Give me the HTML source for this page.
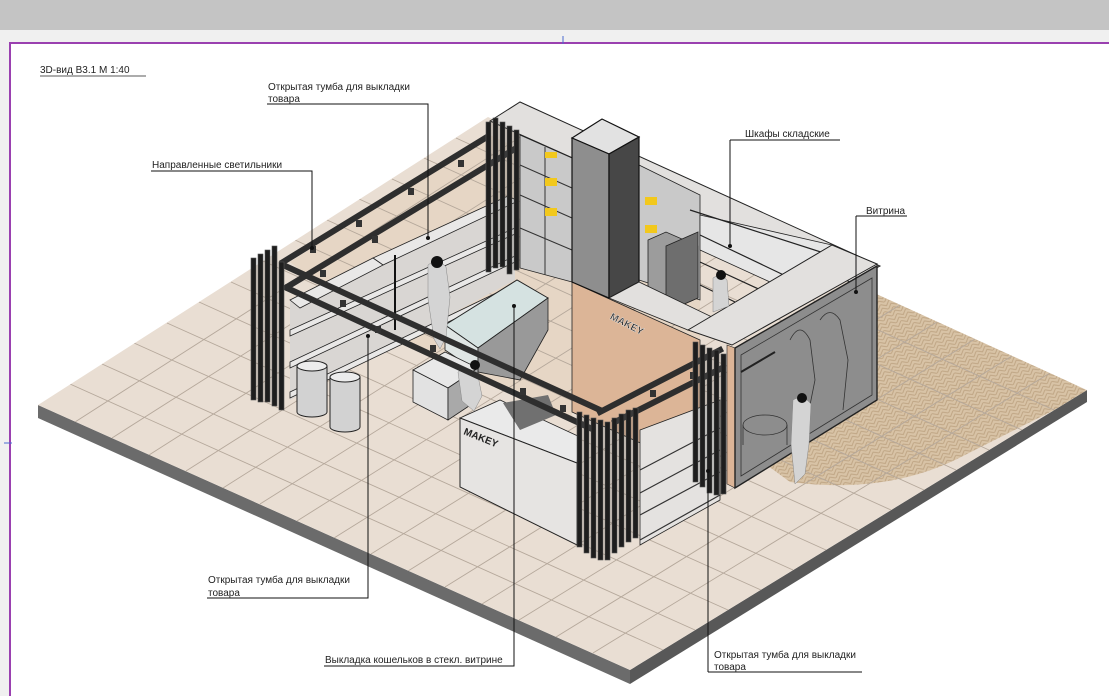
<!DOCTYPE html>
<html><head><meta charset="utf-8"><style>
html,body{margin:0;padding:0;background:#fff;}
svg{display:block}
text{font-family:"Liberation Sans",sans-serif;font-size:10px;fill:#222}
</style></head><body>
<svg width="1109" height="696" viewBox="0 0 1109 696" xmlns="http://www.w3.org/2000/svg">
<defs>
<clipPath id="fc"><polygon points="38,405 488,117 1087,390 630,670"/></clipPath>
<pattern id="hb" width="10" height="8" patternUnits="userSpaceOnUse" patternTransform="rotate(-30)">
<rect width="10" height="8" fill="#d8c3a6"/>
<path d="M0,0 L5,4 L10,0 M0,4 L5,8 L10,4" stroke="#bea483" stroke-width="0.9" fill="none"/>
</pattern>
</defs>
<rect x="0" y="0" width="1109" height="30" fill="#c4c4c4"/>
<rect x="0" y="30" width="1109" height="12" fill="#f0f0f0"/>
<rect x="0" y="42" width="10" height="654" fill="#f0f0f0"/>
<path d="M10,696 V43 H1109" stroke="#9a40b0" stroke-width="2" fill="none"/>
<line x1="563" y1="36" x2="563" y2="44" stroke="#4a6ad0"/>
<line x1="4" y1="443" x2="12" y2="443" stroke="#4a6ad0"/>

<text x="40" y="73" font-size="11">3D-вид B3.1 М 1:40</text>
<line x1="40" y1="76" x2="146" y2="76" stroke="#222" stroke-width="0.8"/>

<!-- slab -->
<polygon points="38,405 630,670 630,684 38,418" fill="#6b6b6b"/>
<polygon points="630,670 1087,390 1087,402 630,684" fill="#585858"/>
<polygon points="38,405 488,117 1087,390 630,670" fill="#e9ded3"/>
<g clip-path="url(#fc)">
<polygon points="290,262 490,135 700,235 700,340 572,282 572,420 380,330" fill="#e4cdb8" opacity="0.5"/>
<path d="M875,288 L1090,392 L965,455 Q890,495 790,482 L760,460 Z" fill="url(#hb)"/>
<g stroke="#b5a89b" stroke-width="0.9">
<line x1="70" y1="384" x2="663" y2="650"/><line x1="102" y1="364" x2="695" y2="630"/>
<line x1="134" y1="343" x2="728" y2="610"/><line x1="167" y1="323" x2="761" y2="590"/>
<line x1="199" y1="302" x2="793" y2="570"/><line x1="231" y1="282" x2="826" y2="550"/>
<line x1="263" y1="261" x2="858" y2="530"/><line x1="295" y1="240" x2="891" y2="510"/>
<line x1="327" y1="220" x2="924" y2="490"/><line x1="359" y1="199" x2="956" y2="470"/>
<line x1="392" y1="179" x2="989" y2="450"/><line x1="424" y1="158" x2="1022" y2="430"/>
<line x1="456" y1="138" x2="1054" y2="410"/>
<line x1="75" y1="422" x2="525" y2="134"/><line x1="112" y1="438" x2="563" y2="151"/>
<line x1="149" y1="455" x2="600" y2="168"/><line x1="186" y1="471" x2="638" y2="185"/>
<line x1="223" y1="488" x2="675" y2="202"/><line x1="260" y1="504" x2="713" y2="219"/>
<line x1="297" y1="521" x2="750" y2="236"/><line x1="334" y1="538" x2="788" y2="254"/>
<line x1="371" y1="554" x2="825" y2="271"/><line x1="408" y1="571" x2="862" y2="288"/>
<line x1="445" y1="587" x2="900" y2="305"/><line x1="482" y1="604" x2="937" y2="322"/>
<line x1="519" y1="620" x2="975" y2="339"/><line x1="556" y1="637" x2="1012" y2="356"/>
<line x1="593" y1="653" x2="1050" y2="373"/>
</g>
</g>

<!-- back top strip and shelving -->
<polygon points="490,121 520,102 880,266 850,282" fill="#e2e0de" stroke="#222" stroke-width="1"/>
<polygon points="520,135 572,158 572,282 520,268" fill="#c9c9c9" stroke="#222" stroke-width="0.8"/>
<g stroke="#333" stroke-width="1">
<line x1="520" y1="165" x2="572" y2="188"/><line x1="520" y1="195" x2="572" y2="218"/>
<line x1="520" y1="228" x2="572" y2="250"/><line x1="545" y1="147" x2="545" y2="275"/>
</g>
<rect x="545" y="152" width="12" height="6" fill="#f2c81c"/>
<rect x="545" y="178" width="12" height="8" fill="#f2c81c"/>
<rect x="545" y="208" width="12" height="8" fill="#f2c81c"/>
<polygon points="639,165 700,195 700,300 639,280" fill="#c9c9c9" stroke="#222" stroke-width="0.8"/>
<rect x="645" y="197" width="12" height="8" fill="#f2c81c"/>
<rect x="645" y="225" width="12" height="8" fill="#f2c81c"/>
<polygon points="700,215 832,245 770,282 700,250" fill="#e6e6e6" stroke="#222" stroke-width="0.8"/>
<g stroke="#222" stroke-width="1.2"><line x1="700" y1="235" x2="790" y2="278"/><line x1="700" y1="262" x2="765" y2="292"/><line x1="700" y1="285" x2="735" y2="302"/><line x1="690" y1="210" x2="830" y2="255"/></g>
<polygon points="648,240 666,232 698,246 698,298 680,306 648,292" fill="#9c9c9c" stroke="#222" stroke-width="0.8"/>
<polygon points="666,246 698,232 698,298 666,312" fill="#6e6e6e" stroke="#222" stroke-width="0.8"/>

<!-- beige wall -->
<polygon points="572,282 700,340 700,470 572,412" fill="#dcb597" stroke="#222" stroke-width="0.8"/>
<text x="603" y="335" transform="rotate(27 640 340)" font-family="Liberation Serif,serif" font-size="19" font-weight="bold" fill="#2a2a2a" stroke="#eee" stroke-width="0.4">MAKEY</text>
<!-- column -->
<polygon points="572,138 602,119 639,137 609,154" fill="#e2e2e2" stroke="#111" stroke-width="1.2"/>
<polygon points="572,138 609,154 609,298 572,282" fill="#8e8e8e" stroke="#111" stroke-width="1.2"/>
<polygon points="609,154 639,137 639,282 609,298" fill="#474747" stroke="#111" stroke-width="1.2"/>
<polygon points="609,298 639,282 712,317 688,330" fill="#e2e0de" stroke="#222" stroke-width="0.8"/>
<!-- vitrine -->
<polygon points="688,330 832,245 877,264 732,345" fill="#e2e0de" stroke="#222" stroke-width="1"/>
<polygon points="727,345 735,348 735,488 727,484" fill="#dcb597" stroke="#222" stroke-width="0.6"/>
<polygon points="735,348 877,266 877,400 735,488" fill="#8d8d8d" stroke="#222" stroke-width="1.4"/>
<polygon points="741,355 872,278 872,395 741,476" fill="none" stroke="#333" stroke-width="0.8"/>
<g fill="none" stroke="#333" stroke-width="0.8">
<ellipse cx="765" cy="425" rx="22" ry="10"/><line x1="743" y1="425" x2="743" y2="445"/><line x1="787" y1="425" x2="787" y2="445"/>
<path d="M790,340 q10,-20 20,0 l5,40 l-8,40 M820,320 q10,-15 20,0 l8,40 l-5,50"/>
</g>
<line x1="741" y1="372" x2="775" y2="352" stroke="#222" stroke-width="2"/>

<!-- left shelving unit -->
<polygon points="290,300 515,200 515,280 290,400" fill="#d9d6d3"/>
<g fill="#e9e8e7" stroke="#222" stroke-width="0.8">
<polygon points="373,258 508,196 518,201 383,265"/>
<polygon points="290,300 373,258 383,265 300,308"/>
<polygon points="290,330 515,228 515,234 290,336"/>
<polygon points="290,362 515,256 515,262 290,368"/>
<polygon points="290,392 515,284 515,290 290,398"/>
</g>
<line x1="395" y1="255" x2="395" y2="330" stroke="#111" stroke-width="2"/>
<!-- glass vitrine -->
<polygon points="445,325 517,280 548,298 478,348" fill="#d5e2e1" stroke="#222" stroke-width="1"/>
<polygon points="445,325 478,348 478,372 445,350" fill="#dfe5e4" stroke="#222" stroke-width="0.8"/>
<polygon points="478,348 548,298 548,330 520,380 478,372" fill="#999" stroke="#222" stroke-width="0.8"/>
<!-- small box -->
<polygon points="413,370 445,352 478,368 448,388" fill="#e8e8e8" stroke="#222" stroke-width="0.8"/>
<polygon points="413,370 448,388 448,420 413,402" fill="#e2e2e2" stroke="#222" stroke-width="0.8"/>
<polygon points="448,388 478,368 478,400 448,420" fill="#a9a9a9" stroke="#222" stroke-width="0.8"/>

<!-- people -->
<g fill="#d4d4d4" stroke="#888" stroke-width="0.5">
<path d="M428,265 q10,-8 18,2 l4,30 l-4,40 l-6,12 l-6,-10 l-6,-40 z"/>
<path d="M458,372 q10,-8 20,4 l4,20 l-8,15 l-12,-10 z"/>
<path d="M713,278 q8,-6 14,2 l2,26 l-16,6 z"/>
<path d="M793,400 q10,-6 18,4 l-2,40 l-4,30 l-10,10 l-4,-40 z"/>
</g>
<g fill="#111"><circle cx="437" cy="262" r="6"/><circle cx="475" cy="365" r="5"/><circle cx="721" cy="275" r="5"/><circle cx="802" cy="398" r="5"/></g>

<!-- counter -->
<polygon points="460,418 500,400 580,437 577,463" fill="#eaeaea" stroke="#222" stroke-width="0.8"/>
<polygon points="503,403 548,395 556,415 520,430" fill="#707070"/>
<polygon points="460,418 577,463 577,545 460,487" fill="#e6e4e2" stroke="#222" stroke-width="1"/>
<text x="463" y="434" font-size="5" font-weight="bold" transform="rotate(22 463 434)">MAKEY</text>

<!-- right shelves -->
<polygon points="640,430 720,400 720,500 640,545" fill="#e4e2e0" stroke="#222" stroke-width="0.8"/>
<g stroke="#333" stroke-width="1.2"><line x1="640" y1="470" x2="720" y2="428"/><line x1="640" y1="493" x2="720" y2="450"/><line x1="640" y1="515" x2="720" y2="472"/><line x1="640" y1="540" x2="720" y2="495"/></g>

<!-- cylinders -->
<g stroke="#222" stroke-width="1">
<path d="M297,366 V412 A15,5 0 0 0 327,412 V366" fill="#d2d2d2"/>
<ellipse cx="312" cy="366" rx="15" ry="5" fill="#ececec"/>
<path d="M330,377 V427 A15,5 0 0 0 360,427 V377" fill="#d2d2d2"/>
<ellipse cx="345" cy="377" rx="15" ry="5" fill="#ececec"/>
</g>

<!-- beams -->
<g stroke="#2e2e2e" stroke-width="6" stroke-linecap="square">
<line x1="283" y1="262" x2="487" y2="137"/>
<line x1="287" y1="287" x2="513" y2="150"/>
<line x1="283" y1="265" x2="600" y2="410"/>
<line x1="287" y1="288" x2="590" y2="428"/>
<line x1="600" y1="412" x2="720" y2="350"/>
<line x1="615" y1="422" x2="722" y2="368"/>
</g>
<g fill="#333">
<rect x="310" y="246" width="6" height="7"/><rect x="356" y="220" width="6" height="7"/><rect x="408" y="188" width="6" height="7"/><rect x="458" y="160" width="6" height="7"/>
<rect x="340" y="300" width="6" height="7"/><rect x="375" y="326" width="6" height="7"/><rect x="430" y="345" width="6" height="7"/><rect x="520" y="388" width="6" height="7"/><rect x="560" y="405" width="6" height="7"/>
<rect x="650" y="390" width="6" height="7"/><rect x="690" y="372" width="6" height="7"/><rect x="372" y="236" width="6" height="7"/><rect x="320" y="270" width="6" height="7"/>
</g>

<!-- black column groups -->
<g fill="#1e1e1e" stroke="#555" stroke-width="0.6">
<rect x="251" y="258" width="5" height="142"/><rect x="258" y="254" width="5" height="148"/><rect x="265" y="250" width="5" height="152"/><rect x="272" y="246" width="5" height="160"/><rect x="279" y="262" width="5" height="148"/>
<rect x="486" y="122" width="5" height="150"/><rect x="493" y="118" width="5" height="150"/><rect x="500" y="122" width="5" height="145"/><rect x="507" y="126" width="5" height="148"/><rect x="514" y="130" width="5" height="140"/>
<rect x="577" y="412" width="5" height="135"/><rect x="584" y="415" width="5" height="138"/><rect x="591" y="418" width="5" height="140"/><rect x="598" y="420" width="5" height="140"/><rect x="605" y="422" width="5" height="138"/><rect x="612" y="418" width="5" height="135"/><rect x="619" y="414" width="5" height="133"/><rect x="626" y="410" width="5" height="132"/><rect x="633" y="408" width="5" height="130"/>
<rect x="693" y="342" width="5" height="140"/><rect x="700" y="345" width="5" height="142"/><rect x="707" y="348" width="5" height="145"/><rect x="714" y="350" width="5" height="145"/><rect x="721" y="354" width="5" height="140"/>
</g>

<!-- leaders -->
<g stroke="#111" stroke-width="1" fill="none">
<path d="M267,104 H428 V238"/>
<path d="M151,171 H312 V248"/>
<path d="M730,140 H840 M730,140 V246"/>
<path d="M856,216 H907 M856,216 V292"/>
<path d="M207,598 H368 V336"/>
<path d="M324,666 H514 V306"/>
<path d="M708,672 H862 M708,672 V471"/>
</g>
<g fill="#111"><circle cx="428" cy="238" r="2"/><circle cx="312" cy="248" r="2"/><circle cx="730" cy="246" r="2"/><circle cx="856" cy="292" r="2"/><circle cx="368" cy="336" r="2"/><circle cx="514" cy="306" r="2"/><circle cx="708" cy="471" r="2"/></g>
<text x="268" y="90">Открытая тумба для выкладки</text><text x="268" y="102">товара</text>
<text x="152" y="168">Направленные светильники</text>
<text x="745" y="137">Шкафы складские</text>
<text x="866" y="214">Витрина</text>
<text x="208" y="583">Открытая тумба для выкладки</text><text x="208" y="596">товара</text>
<text x="325" y="663">Выкладка кошельков в стекл. витрине</text>
<text x="714" y="658">Открытая тумба для выкладки</text><text x="714" y="670">товара</text>
</svg>
</body></html>
